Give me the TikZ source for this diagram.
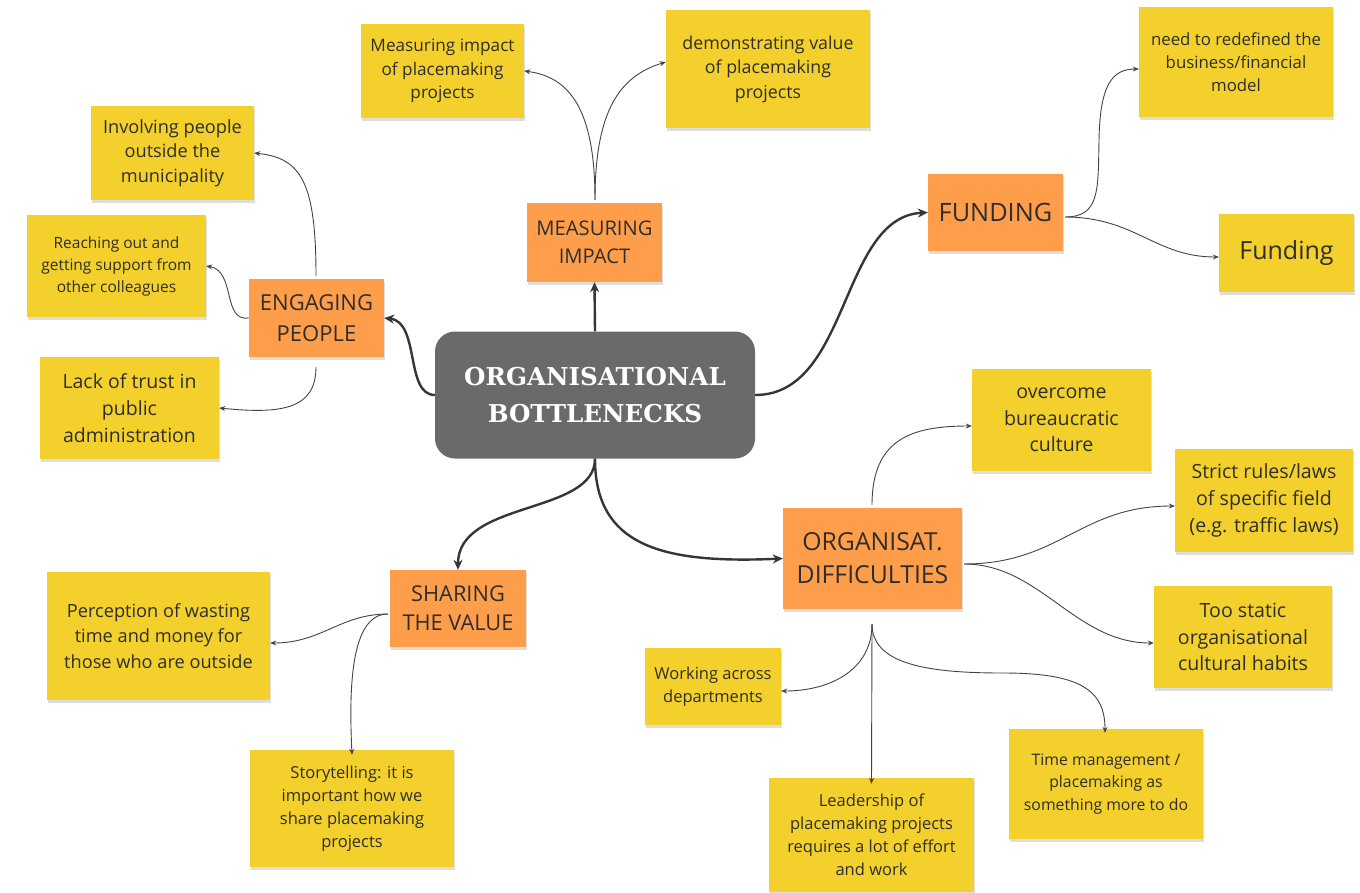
\documentclass[tikz,border=0pt]{standalone}
\usepackage{fontspec}
\setmainfont{Open Sans}
\newfontfamily\slabfont{DejaVu Serif}
\usetikzlibrary{arrows.meta,shadows}
\definecolor{yel}{HTML}{F3D02C}
\definecolor{ora}{HTML}{FF9E4A}
\definecolor{hub}{HTML}{6A6A6A}
\definecolor{txt}{HTML}{2E2E2E}
\definecolor{lnk}{HTML}{444444}
\newcommand\fsz[2]{\fontsize{#1}{#2}\selectfont}
\tikzset{
  boxbase/.style={align=center, inner sep=0pt, text=txt,
    drop shadow={shadow xshift=1pt, shadow yshift=-2.5pt, opacity=0.13, fill=black}},
  note/.style={boxbase, fill=yel},
  topic/.style={boxbase, fill=ora},
  hubbox/.style={fill=hub, rounded corners=20pt, text=white, align=center, inner sep=0pt},
  thin/.style={draw=lnk, line width=0.9pt, -{Stealth[length=6pt,width=5pt]}},
  thick/.style={draw=lnk!80!black, line width=2.4pt, -{Stealth[length=10pt,width=9pt]}},
  plain/.style={draw=lnk, line width=0.9pt}
}
\begin{document}
\begin{tikzpicture}[x=1pt,y=-1pt]
\fill[white] (0,0) rectangle (1360,892);
\useasboundingbox (0,0) rectangle (1360,892);

% hub
\node[hubbox, minimum width=320pt, minimum height=127pt, font={\slabfont\bfseries\fsz{24.6}{37}}] (hub) at (595,395) {ORGANISATIONAL\\BOTTLENECKS};

% topics
\node[topic, minimum width=135pt, minimum height=78pt, font=\fsz{22}{31}] (eng) at (316.5,318) {ENGAGING\\PEOPLE};
\node[topic, minimum width=135pt, minimum height=79pt, font=\fsz{20.2}{28}] (meas) at (594.5,242.5) {MEASURING\\IMPACT};
\node[topic, minimum width=135pt, minimum height=77pt, font=\fsz{25.3}{30}] (fund) at (995.5,212.5) {FUNDING};
\node[topic, minimum width=179pt, minimum height=101pt, font=\fsz{24.8}{33}] (org) at (872.5,558.5) {ORGANISAT.\\DIFFICULTIES};
\node[topic, minimum width=136pt, minimum height=77pt, font=\fsz{21.8}{29}] (share) at (458,608.5) {SHARING\\THE VALUE};

% notes
\node[note, minimum width=163pt, minimum height=94pt, font=\fsz{18.2}{24.5}] (inv) at (172.5,153) {Involving people\\outside the\\municipality};
\node[note, minimum width=179pt, minimum height=102pt, font=\fsz{15.5}{22}] (reach) at (116.5,266) {Reaching out and\\getting support from\\other colleagues};
\node[note, minimum width=179pt, minimum height=102pt, font=\fsz{19.5}{27}] (lack) at (129.5,408) {Lack of trust in\\public\\administration};
\node[note, minimum width=163pt, minimum height=94pt, font=\fsz{17.2}{23.5}] (mi) at (442.5,71) {Measuring impact\\of placemaking\\projects};
\node[note, minimum width=204pt, minimum height=118pt, font=\fsz{17.8}{24.5}] (dem) at (768,69) {demonstrating value\\of placemaking\\projects};
\node[note, minimum width=194pt, minimum height=110pt, font=\fsz{16.8}{23}] (need) at (1236,62) {need to redefined the\\business/financial\\model};
\node[note, minimum width=135pt, minimum height=78pt, font=\fsz{25}{30}] (fund2) at (1286.5,253) {Funding};
\node[note, minimum width=179pt, minimum height=102pt, font=\fsz{19.6}{26.5}] (over) at (1061.5,420) {overcome\\bureaucratic\\culture};
\node[note, minimum width=178pt, minimum height=103pt, font=\fsz{19.6}{27}] (strict) at (1264,500.5) {Strict rules/laws\\of specific field\\(e.g. traffic laws)};
\node[note, minimum width=178pt, minimum height=102pt, font=\fsz{19.6}{26.5}] (static) at (1243,637) {Too static\\organisational\\cultural habits};
\node[note, minimum width=136pt, minimum height=77pt, font=\fsz{16.5}{22.5}] (work) at (713,686.5) {Working across\\departments};
\node[note, minimum width=205pt, minimum height=114pt, font=\fsz{16.5}{23}] (lead) at (871.5,835) {Leadership of\\placemaking projects\\requires a lot of effort\\and work};
\node[note, minimum width=194pt, minimum height=110pt, font=\fsz{15.8}{22.5}] (time) at (1106,784) {Time management /\\placemaking as\\something more to do};
\node[note, minimum width=223pt, minimum height=128pt, font=\fsz{18.2}{25.5}] (perc) at (158.5,636) {Perception of wasting\\time and money for\\those who are outside};
\node[note, minimum width=204pt, minimum height=117pt, font=\fsz{16.5}{23}] (story) at (352,808.5) {Storytelling: it is\\important how we\\share placemaking\\projects};

% branch points
\coordinate (engT) at (316,276);
\coordinate (engB) at (316,367);
\coordinate (measT) at (595,200);
\coordinate (orgT) at (872,505);
\coordinate (orgB) at (872,624);
\coordinate (orgR) at (964,564);
\coordinate (fundR) at (1065,217);
\coordinate (shareL) at (388,614);

% hub connectors
\draw[thick] (hub.west) .. controls (405,395) and (420,322) .. (eng.east);
\draw[thick] (hub.north) -- (meas.south);
\draw[thick] (hub.east) .. controls (850,395) and (840,217) .. (fund.west);
\draw[thick] (hub.south) .. controls (595,515) and (458,500) .. (share.north);
\draw[thick] (hub.south) .. controls (595,545) and (660,564) .. (org.west);

% engaging
\draw[thin] (engT) .. controls (316,180) and (300,158) .. (inv.east);
\draw[thin] (eng.west) .. controls (222,322) and (236,271) .. (reach.east);
\draw[thin] (engB) .. controls (316,410) and (280,414) .. (lack.east);

% measuring
\draw[thin] (measT) .. controls (595,110) and (570,77) .. (mi.east);
\draw[thin] (measT) .. controls (595,110) and (620,76) .. ([yshift=7pt]dem.west);

% funding
\draw[thin] (fundR) .. controls (1100,217) and (1098,190) .. (1099,140)
  .. controls (1100,85) and (1112,69) .. ([yshift=-7pt]need.west);
\draw[thin] (fundR) .. controls (1135,217) and (1155,257) .. ([yshift=-4pt]fund2.west);

% organisat
\draw[thin] (orgT) .. controls (872,440) and (910,426) .. ([yshift=-6pt]over.west);
\draw[thin] (orgR) .. controls (1060,564) and (1080,506) .. ([yshift=-5.5pt]strict.west);
\draw[thin] (orgR) .. controls (1040,564) and (1075,643) .. ([yshift=-6pt]static.west);
\draw[thin] (orgB) .. controls (872,670) and (830,691) .. ([yshift=-4.5pt]work.east);
\draw[thin] (orgB) -- ([yshift=-6pt]lead.north);
\draw[thin] (orgB) .. controls (872,665) and (930,673) .. (1003,673)
  .. controls (1080,673) and (1105,690) .. ([xshift=-1pt,yshift=-4pt]time.north);

% sharing
\draw[thin] (shareL) .. controls (340,614) and (322,643) .. ([yshift=-7pt]perc.east);
\draw[thin] (shareL) .. controls (350,614) and (349,690) .. ([yshift=-5pt]story.north);
\end{tikzpicture}
\end{document}
